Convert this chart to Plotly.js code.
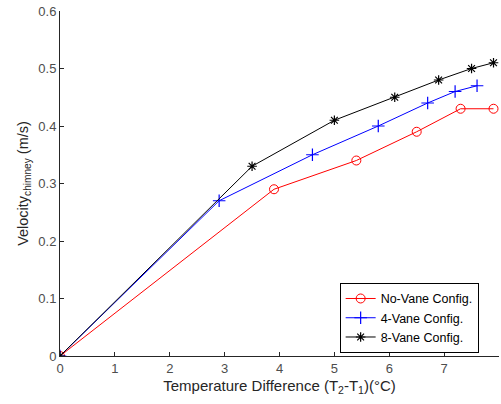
<!DOCTYPE html>
<html><head><meta charset="utf-8">
<script src="https://cdn.plot.ly/plotly-3.0.1.min.js"></script>
<style>body{margin:0;padding:0;}#c{width:501px;height:404px;}</style>
</head><body><div id="c"></div>
<script>
const noVaneX = [0, 3.9, 5.4, 6.5, 7.3, 7.9];
const noVaneY = [0, 0.29, 0.34, 0.39, 0.43, 0.43];
const vane4X = [0, 2.9, 4.6, 5.8, 6.7, 7.2, 7.6];
const vane4Y = [0, 0.27, 0.35, 0.40, 0.44, 0.46, 0.47];
const vane8X = [0, 3.5, 5.0, 6.1, 6.9, 7.5, 7.9];
const vane8Y = [0, 0.33, 0.41, 0.45, 0.48, 0.50, 0.51];
const names = ['No-Vane Config.', '4-Vane Config.', '8-Vane Config.'];

const traces = [
  {x: noVaneX, y: noVaneY, name: names[0], mode: 'lines+markers', type: 'scatter',
   line: {color: '#ff0000', width: 1}, marker: {symbol: 'circle-open', size: 9, color: '#ff0000', line: {width: 1}}},
  {x: vane4X, y: vane4Y, name: names[1], mode: 'lines+markers', type: 'scatter',
   line: {color: '#0000ff', width: 1}, marker: {symbol: 'cross-thin-open', size: 9, color: '#0000ff', line: {width: 1.2}}},
  {x: vane8X, y: vane8Y, name: names[2], mode: 'lines+markers', type: 'scatter',
   line: {color: '#000000', width: 1}, marker: {symbol: 'asterisk-open', size: 8, color: '#000000', line: {width: 1.2}}}
];

const FONT = 'Liberation Sans, Arial, sans-serif';
const axisCommon = {
  showgrid: false, zeroline: false, showline: true, linecolor: '#262626', linewidth: 1,
  ticks: 'inside', ticklen: 4, tickcolor: '#262626',
  tickfont: {family: FONT, size: 13, color: '#4d4d4d'}
};

const layout = {
  width: 501, height: 404,
  margin: {l: 60, r: 2, t: 11, b: 48},
  paper_bgcolor: '#ffffff', plot_bgcolor: '#ffffff',
  showlegend: true,
  legend: {x: 0.637, y: 0.212, xanchor: 'left', yanchor: 'top',
    bordercolor: '#000000', borderwidth: 1, bgcolor: '#ffffff',
    font: {family: FONT, size: 12.5, color: '#000000'},
    tracegroupgap: 0, itemwidth: 30},
  xaxis: Object.assign({}, axisCommon, {
    range: [0, 8], dtick: 1, tick0: 0,
    title: {text: 'Temperature Difference (T<sub>2</sub>-T<sub>1</sub>)(°C)', standoff: 5,
      font: {family: FONT, size: 15, color: '#262626'}}
  }),
  yaxis: Object.assign({}, axisCommon, {
    range: [0, 0.6], dtick: 0.1, tick0: 0,
    title: {text: 'Velocity<sub>chimney</sub> (m/s)', standoff: 6,
      font: {family: FONT, size: 14.5, color: '#262626'}}
  })
};

Plotly.newPlot('c', traces, layout, {displayModeBar: false, staticPlot: true});
</script>
</body></html>
